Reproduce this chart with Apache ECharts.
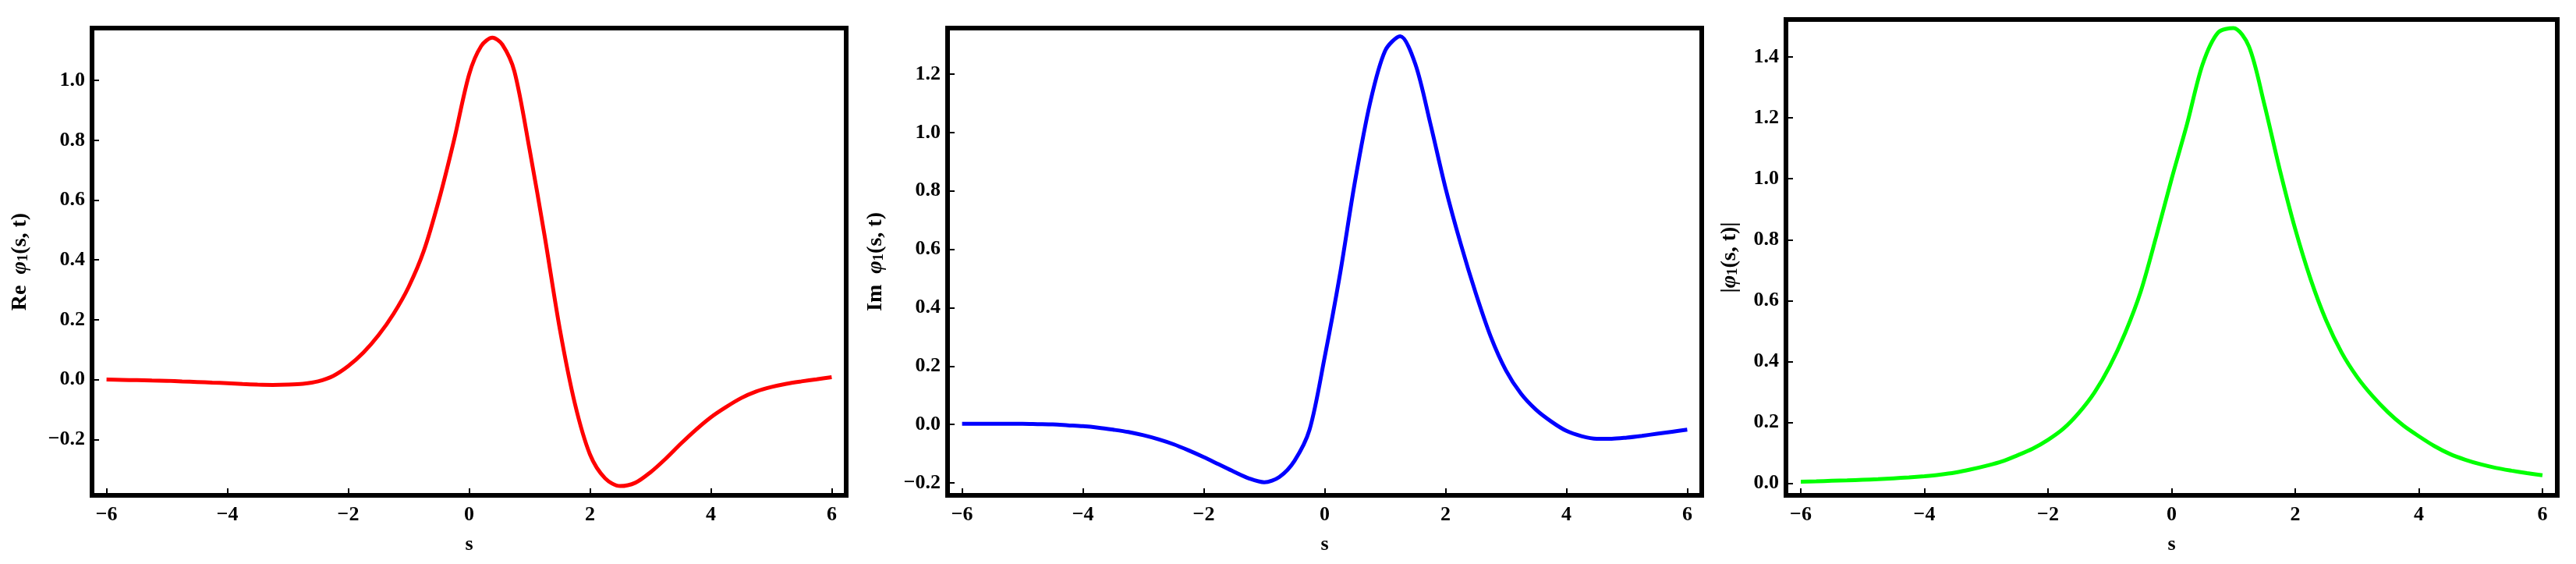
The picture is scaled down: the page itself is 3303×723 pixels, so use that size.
<!DOCTYPE html>
<html>
<head>
<meta charset="utf-8">
<script src="https://cdn.jsdelivr.net/npm/echarts@6/dist/echarts.min.js"></script>
<style>
  html, body { margin: 0; padding: 0; background: #fff; }
  #chart { width: 3303px; height: 723px; }
</style>
</head>
<body>
<div id="chart"></div>
<script>
// s samples and the three curves
const sVals = [-6, -5.75, -5.5, -5.25, -5, -4.75, -4.5, -4.25, -4, -3.75, -3.5, -3.25, -3, -2.75, -2.5, -2.25, -2, -1.75, -1.5, -1.25, -1, -0.75, -0.5, -0.25,
  0, 0.25, 0.5, 0.75, 1, 1.25, 1.5, 1.75, 2, 2.25, 2.5, 2.75, 3, 3.25, 3.5, 3.75, 4, 4.25, 4.5, 4.75, 5, 5.25, 5.5, 5.75, 6];

// the real part has one more sample on its peak
const reS = [-6, -5.75, -5.5, -5.25, -5, -4.75, -4.5, -4.25, -4, -3.75, -3.5, -3.25, -3, -2.75, -2.5, -2.25, -2, -1.75, -1.5, -1.25, -1, -0.75, -0.5, -0.25,
  0, 0.2, 0.385, 0.55, 0.75, 1, 1.25, 1.5, 1.75, 2, 2.25, 2.5, 2.75, 3, 3.25, 3.5, 3.75, 4, 4.25, 4.5, 4.75, 5, 5.25, 5.5, 5.75, 6];
const reVal = [0.000, -0.001, -0.002, -0.003, -0.004, -0.006, -0.008, -0.010, -0.012, -0.015, -0.017, -0.018, -0.017, -0.014, -0.006, 0.012, 0.045, 0.09, 0.148, 0.22, 0.31, 0.43, 0.60, 0.80,
  1.02, 1.115, 1.143, 1.12, 1.03, 0.77, 0.48, 0.17, -0.08, -0.25, -0.33, -0.356, -0.345, -0.31, -0.265, -0.215, -0.168, -0.126, -0.092, -0.062, -0.04, -0.025, -0.014, -0.006, 0.001, 0.008];

const imVal = [0.002, 0.002, 0.002, 0.002, 0.002, 0.001, 0.0, -0.003, -0.006, -0.011, -0.018, -0.026, -0.037, -0.051, -0.068, -0.089, -0.112, -0.137, -0.162, -0.185, -0.198, -0.18, -0.125, -0.018,
  0.23, 0.51, 0.83, 1.10, 1.28, 1.33, 1.235, 1.03, 0.81, 0.62, 0.45, 0.30, 0.185, 0.105, 0.05, 0.01, -0.022, -0.04, -0.049, -0.049, -0.045, -0.039, -0.032, -0.025, -0.018];

const absVal = [0.006, 0.007, 0.009, 0.010, 0.012, 0.014, 0.017, 0.020, 0.024, 0.029, 0.036, 0.046, 0.058, 0.072, 0.092, 0.114, 0.143, 0.18, 0.232, 0.298, 0.385, 0.495, 0.63, 0.81,
  1.0, 1.18, 1.375, 1.48, 1.495, 1.435, 1.245, 1.03, 0.835, 0.67, 0.535, 0.43, 0.35, 0.287, 0.234, 0.19, 0.155, 0.123, 0.097, 0.078, 0.063, 0.051, 0.042, 0.034, 0.027];

const sTicks = [-6, -4, -2, 0, 2, 4, 6];
const reTicks = [-0.2, 0.0, 0.2, 0.4, 0.6, 0.8, 1.0];
const imTicks = [-0.2, 0.0, 0.2, 0.4, 0.6, 0.8, 1.0, 1.2];
const absTicks = [0.0, 0.2, 0.4, 0.6, 0.8, 1.0, 1.2, 1.4];

const zip = (xs, ys) => xs.map((x, i) => [x, ys[i]]);
const minus = (s) => s.replace('-', '\u2212');

const font = { fontFamily: 'Liberation Serif', fontWeight: 'bold', fontSize: 26, color: '#000' };

function xAxis(idx) {
  return {
    type: 'value', gridIndex: idx, min: -6.24, max: 6.24,
    name: 's', nameLocation: 'middle', nameGap: 50,
    nameTextStyle: font,
    axisLine: { show: false, onZero: false },
    axisTick: { show: true, inside: true, length: 9, customValues: sTicks, lineStyle: { color: '#000', width: 2 } },
    axisLabel: Object.assign({ margin: 12, customValues: sTicks, formatter: v => minus(String(v)) }, font),
    splitLine: { show: false }
  };
}

function yAxis(idx, min, max, ticks, name, gap) {
  return {
    type: 'value', gridIndex: idx, min: min, max: max,
    name: name, nameLocation: 'middle', nameGap: gap,
    nameTextStyle: Object.assign({}, font, {
      fontSize: 28,
      rich: { sub: { fontFamily: 'Liberation Serif', fontWeight: 'bold', fontSize: 19, color: '#000', verticalAlign: 'bottom', padding: [10, 0, 0, 0] },
              it: { fontFamily: 'Liberation Serif', fontWeight: 'bold', fontStyle: 'italic', fontSize: 28, color: '#000' } }
    }),
    axisLine: { show: false, onZero: false },
    axisTick: { show: true, inside: true, length: 9, customValues: ticks, lineStyle: { color: '#000', width: 2 } },
    axisLabel: Object.assign({ margin: 9, customValues: ticks, formatter: v => minus(v.toFixed(1)) }, font),
    splitLine: { show: false }
  };
}

const gridBase = { show: true, borderColor: '#000', borderWidth: 6, backgroundColor: '#fff' };

const chart = echarts.init(document.getElementById('chart'));
chart.setOption({
  animation: false,
  backgroundColor: '#fff',
  grid: [
    Object.assign({ left: 118, top: 36, width: 967, height: 599 }, gridBase),
    Object.assign({ left: 1215, top: 36, width: 967, height: 599 }, gridBase),
    Object.assign({ left: 2290, top: 25, width: 989, height: 610 }, gridBase)
  ],
  xAxis: [xAxis(0), xAxis(1), xAxis(2)],
  yAxis: [
    yAxis(0, -0.387, 1.175, reTicks, 'Re  {it|φ}{sub|1}(s, t)', 78),
    yAxis(1, -0.243, 1.358, imTicks, 'Im  {it|φ}{sub|1}(s, t)', 78),
    yAxis(2, -0.039, 1.523, absTicks, '|{it|φ}{sub|1}(s, t)|', 58)
  ],
  series: [
    { type: 'line', xAxisIndex: 0, yAxisIndex: 0, data: zip(reS, reVal), smooth: 0.3, showSymbol: false, lineStyle: { color: '#ff0000', width: 5 } },
    { type: 'line', xAxisIndex: 1, yAxisIndex: 1, data: zip(sVals, imVal), smooth: 0.3, showSymbol: false, lineStyle: { color: '#0000ff', width: 5 } },
    { type: 'line', xAxisIndex: 2, yAxisIndex: 2, data: zip(sVals, absVal), smooth: 0.3, showSymbol: false, lineStyle: { color: '#00ff00', width: 5 } }
  ]
});
</script>
</body>
</html>
